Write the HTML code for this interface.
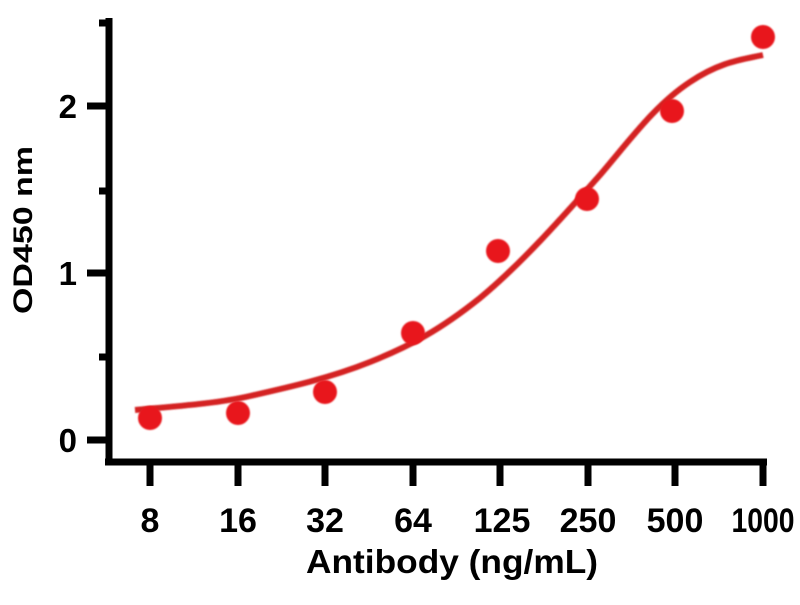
<!DOCTYPE html>
<html><head><style>
body{margin:0;background:#fff;}
svg text{font-family:"Liberation Sans",Arial,sans-serif;font-weight:bold;fill:#000;}
</style></head><body>
<svg width="800" height="600" viewBox="0 0 800 600">
<defs><filter id="b"><feGaussianBlur stdDeviation="0.8"/></filter></defs>
<g stroke="#000" stroke-width="7" fill="none">
<line x1="109" y1="18" x2="109" y2="465"/>
<line x1="105" y1="462" x2="767" y2="462"/>
<line x1="87" y1="106" x2="109" y2="106"/>
<line x1="87" y1="273" x2="109" y2="273"/>
<line x1="87" y1="440" x2="109" y2="440"/>
<line x1="99" y1="23" x2="109" y2="23"/>
<line x1="99" y1="191" x2="109" y2="191"/>
<line x1="99" y1="357" x2="109" y2="357"/>
<line x1="150" y1="462" x2="150" y2="486"/>
<line x1="238" y1="462" x2="238" y2="486"/>
<line x1="325" y1="462" x2="325" y2="486"/>
<line x1="413" y1="462" x2="413" y2="486"/>
<line x1="500" y1="462" x2="500" y2="486"/>
<line x1="588" y1="462" x2="588" y2="486"/>
<line x1="675" y1="462" x2="675" y2="486"/>
<line x1="763" y1="462" x2="763" y2="486"/>
</g>
<g font-size="33" text-anchor="end">
<text x="77" y="118">2</text>
<text x="77" y="285">1</text>
<text x="77" y="452">0</text>
</g>
<g font-size="34" text-anchor="middle">
<text x="150" y="532">8</text>
<text x="238" y="532">16</text>
<text x="325" y="532">32</text>
<text x="413" y="532">64</text>
<text x="502" y="532">125</text>
<text x="588" y="532">250</text>
<text x="675" y="532">500</text>
<text x="763" y="532" textLength="63" lengthAdjust="spacingAndGlyphs">1000</text>
</g>
<text x="452" y="573" font-size="33" text-anchor="middle" textLength="292" lengthAdjust="spacingAndGlyphs">Antibody (ng/mL)</text>
<text transform="translate(32,230) rotate(-90)" font-size="27" text-anchor="middle" textLength="168" lengthAdjust="spacingAndGlyphs">OD450 nm</text>
<path d="M135,410 C180,406 220,403 250,396 C290,387 330,378 370,362 C410,346 440,330 480,298 C520,265 560,220 600,175 C630,140 655,105 690,82 C720,62 740,60 763,55" stroke="#d42020" stroke-width="6" fill="none" filter="url(#b)"/>
<g fill="#e8141c" filter="url(#b)">
<circle cx="150" cy="418" r="12"/><circle cx="238" cy="413" r="12"/><circle cx="325" cy="392" r="12"/>
<circle cx="413" cy="333" r="12"/><circle cx="498" cy="251" r="12"/><circle cx="587" cy="199" r="12"/>
<circle cx="672" cy="111" r="12"/><circle cx="763" cy="37" r="12"/>
</g>
</svg>
</body></html>
